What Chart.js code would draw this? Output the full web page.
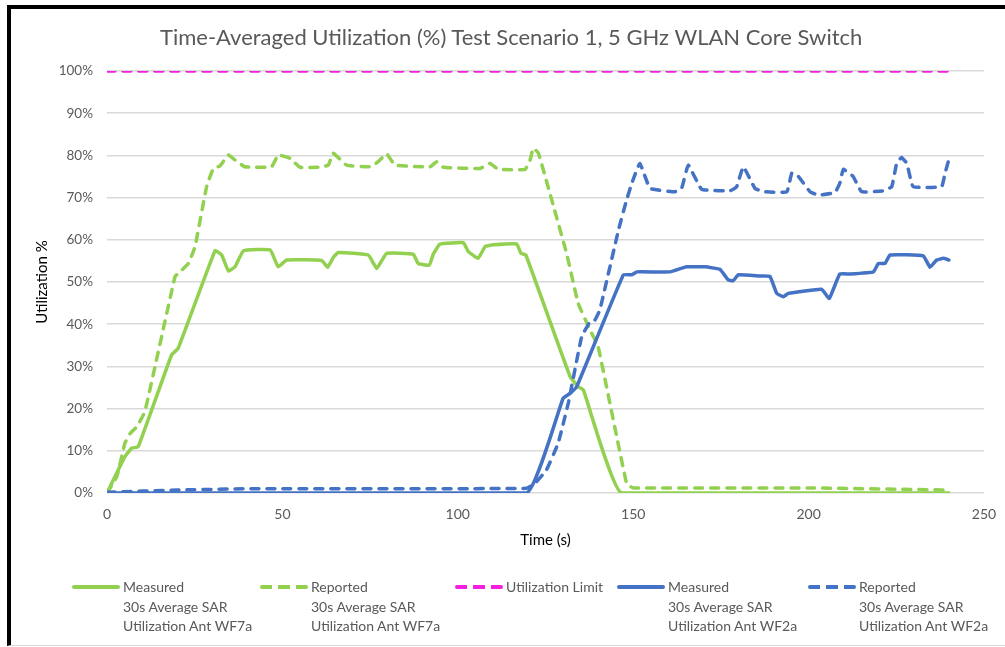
<!DOCTYPE html>
<html>
<head>
<meta charset="utf-8">
<script src="https://cdn.jsdelivr.net/npm/chart.js@4.4.1/dist/chart.umd.min.js"></script>
<style>
  body { margin: 0; background: #fff; }
  #wrap { position: relative; width: 1005px; height: 647px; overflow: hidden; font-family: Lato, sans-serif; }
  #frame { position: absolute; left: 7px; top: 5px; right: -10px; bottom: 1px; border-top: 4px solid #000; border-left: 4px solid #000; border-bottom: 1px solid #d9d9d9; }
  canvas { position: absolute; left: 0; top: 0; }
  #title { position: absolute; left: 160px; top: 23px; font-size: 22px; line-height: 27px; color: #595959; white-space: nowrap; }
  .leg { position: absolute; top: 577px; font-size: 14px; color: #595959; line-height: 19.5px; white-space: nowrap; }
  .leg .smp { position: absolute; top: 8px; height: 4px; }
  .solid { border-radius: 2px; }
</style>
</head>
<body>
<div id="wrap">
  <div id="frame"></div>
  <canvas id="popChart" width="1005" height="647"></canvas>
  <div id="title">Time-Averaged Utilization (%) Test Scenario 1, 5 GHz WLAN Core Switch</div>
  <div id="legend"></div>
</div>
<script>
// time (s), utilization (%)
let measuredWF7a = [[0,0],[5.1,8.6],[7,10.6],[8.9,11],[18.4,32.7],[20.3,34.3],[30.8,57.4],[32.7,56.4],[34.6,52.6],[36.5,53.6],[38.9,57.4],[46.5,57.6],[48.8,53.6],[51.2,55.2],[61.2,55.1],[62.9,53.5],[64.5,55.8],[65.9,57],[74.5,56.4],[76.9,53.2],[79.7,56.8],[87.3,56.6],[88.7,54.4],[91.9,54],[93,56.6],[94.9,59],[101.6,59.3],[103,57.2],[105.8,55.6],[107.8,58.4],[110.1,58.8],[116.8,59],[118,56.8],[119.4,56.4],[132,27.6],[134.3,25.2],[135.8,24.4],[146.7,0],[240,0]]
let reportedWF7a = [[0,0],[2.8,3.9],[5.1,11.8],[6.6,14.1],[8.5,15.7],[10.8,19.3],[19.4,51.3],[20.8,52.4],[23.2,54.4],[25.1,58.4],[28.4,72.6],[30.3,76.9],[32.2,77.5],[34.6,80.1],[36.5,78.9],[39.3,77.3],[46.9,77.3],[48.8,80.1],[52.2,79.3],[55,77.2],[60.7,77.2],[63.1,77.7],[64.5,80.5],[68.3,77.7],[75,77.3],[77.3,78.5],[79.7,80.4],[82.1,77.7],[92.1,77.3],[94,78.5],[95.9,77.2],[106.3,76.9],[109.2,78.1],[111.5,76.7],[119.2,76.7],[120.6,78.9],[121.5,81.7],[123,80.5],[127.2,68.2],[131,56.8],[134.3,45],[137.7,38.6],[140,34.7],[148.1,2.3],[150,1.2],[200,1.2],[240,0.7]]
let utilizationLimit = [[0,100],[240,100]]
let measuredWF2a = [[0,0],[119.6,0],[130,22.4],[132,23.6],[133.9,25.2],[147.2,51.7],[149.6,51.7],[151,52.4],[160.5,52.4],[165.2,53.6],[170.5,53.6],[174.7,53],[177.1,50.5],[178.5,50.3],[180,51.7],[186.1,51.4],[189,51.3],[190.9,47.3],[192.8,46.5],[194.2,47.3],[203.7,48.3],[205.9,46.1],[208.9,51.9],[211.8,51.9],[218.5,52.4],[219.9,54.4],[221.8,54.4],[223.2,56.4],[232.7,56.2],[234.6,53.5],[236.5,55.2],[238.4,55.6],[240,55.2]]
let reportedWF2a = [[0,0.2],[20,0.7],[40,1],[119.6,1.1],[122,2.3],[125.3,5.5],[128.6,11.8],[131.5,21.3],[135.3,37],[137.7,40.6],[139.1,41],[140.5,43.4],[145.8,62.3],[148.1,69.4],[149.6,73.4],[151.9,78.1],[154.8,72.2],[161.9,71.4],[163.8,72.2],[165.7,77.7],[169.5,72],[177.6,71.6],[179.5,72.6],[181.4,77.3],[184.7,72.2],[187.1,71.4],[193.8,71.4],[195.2,75.8],[197.1,75],[200.4,71.4],[202.8,70.6],[207.5,71.2],[208.9,73.4],[209.9,76.7],[212.7,75],[215.1,71.4],[221.3,71.6],[223.7,72.6],[225.1,78.1],[226.5,79.5],[228,78.1],[229.8,72.6],[237.9,72.6],[238.9,75.8],[240,79.1]]

let labels = [
    ['Measured', '30s Average SAR', 'Utilization Ant WF7a'],
    ['Reported', '30s Average SAR', 'Utilization Ant WF7a'],
    ['Utilization Limit'],
    ['Measured', '30s Average SAR', 'Utilization Ant WF2a'],
    ['Reported', '30s Average SAR', 'Utilization Ant WF2a']
]
let series = [measuredWF7a, reportedWF7a, utilizationLimit, measuredWF2a, reportedWF2a]
let colors = ['#92D050', '#92D050', '#F51FE0', '#4472C4', '#4472C4']
let dashed = [false, true, true, false, true]
let legendX = [72, 260, 455, 617, 808]

const toXY = (arr) => arr.map(p => ({ x: p[0], y: p[1] }))

let datasets = series.map((s, k) => ({
    label: labels[k].join(' '),
    data: toXY(s),
    borderColor: colors[k],
    borderWidth: 3.5,
    borderDash: dashed[k] ? [8, 8] : [],
    borderCapStyle: 'round',
    borderJoinStyle: 'round',
    pointRadius: 0,
    tension: 0.1,
    order: 5 - k
}))

const grey = '#595959'

new Chart(document.getElementById('popChart').getContext('2d'), {
    type: 'line',
    data: { datasets: datasets },
    options: {
        responsive: false,
        animation: false,
        layout: { padding: { left: 0, right: 21, top: 71, bottom: 94 } },
        plugins: {
            legend: { display: false },
            tooltip: { enabled: false }
        },
        scales: {
            x: {
                type: 'linear',
                min: 0,
                max: 250,
                ticks: { stepSize: 50, color: grey, font: { family: 'Lato', size: 14 }, padding: 5, maxRotation: 0 },
                grid: { display: false },
                border: { display: false },
                title: { display: true, text: 'Time (s)', color: '#000', font: { family: 'Lato', size: 15 }, padding: { top: 0, bottom: 4 } },
                afterFit: (scale) => { scale.height = 60 }
            },
            y: {
                min: 0,
                max: 100,
                ticks: { stepSize: 10, color: grey, font: { family: 'Lato', size: 13.5 }, padding: 14, callback: (v) => v + '%' },
                grid: { color: '#d9d9d9', lineWidth: 1.5, drawTicks: false },
                border: { display: false },
                title: { display: true, text: 'Utilization %', color: '#000', font: { family: 'Lato', size: 15 }, padding: { top: 33, bottom: 0 } },
                afterFit: (scale) => { scale.width = 107 }
            }
        }
    }
})

// legend with three-line labels
let html = ''
for (let k = 0; k < labels.length; k++) {
    let smp = ''
    if (dashed[k]) {
        smp = `<div class="smp" style="left:0;width:48px;background:repeating-linear-gradient(90deg, ${colors[k]} 0 12px, transparent 12px 18px);border-radius:2px"></div>`
    } else {
        smp = `<div class="smp solid" style="left:0;width:48px;background:${colors[k]}"></div>`
    }
    html += `<div class="leg" style="left:${legendX[k]}px">${smp}<div style="margin-left:51px">${labels[k].join('<br>')}</div></div>`
}
document.getElementById('legend').innerHTML = html
</script>
</body>
</html>
